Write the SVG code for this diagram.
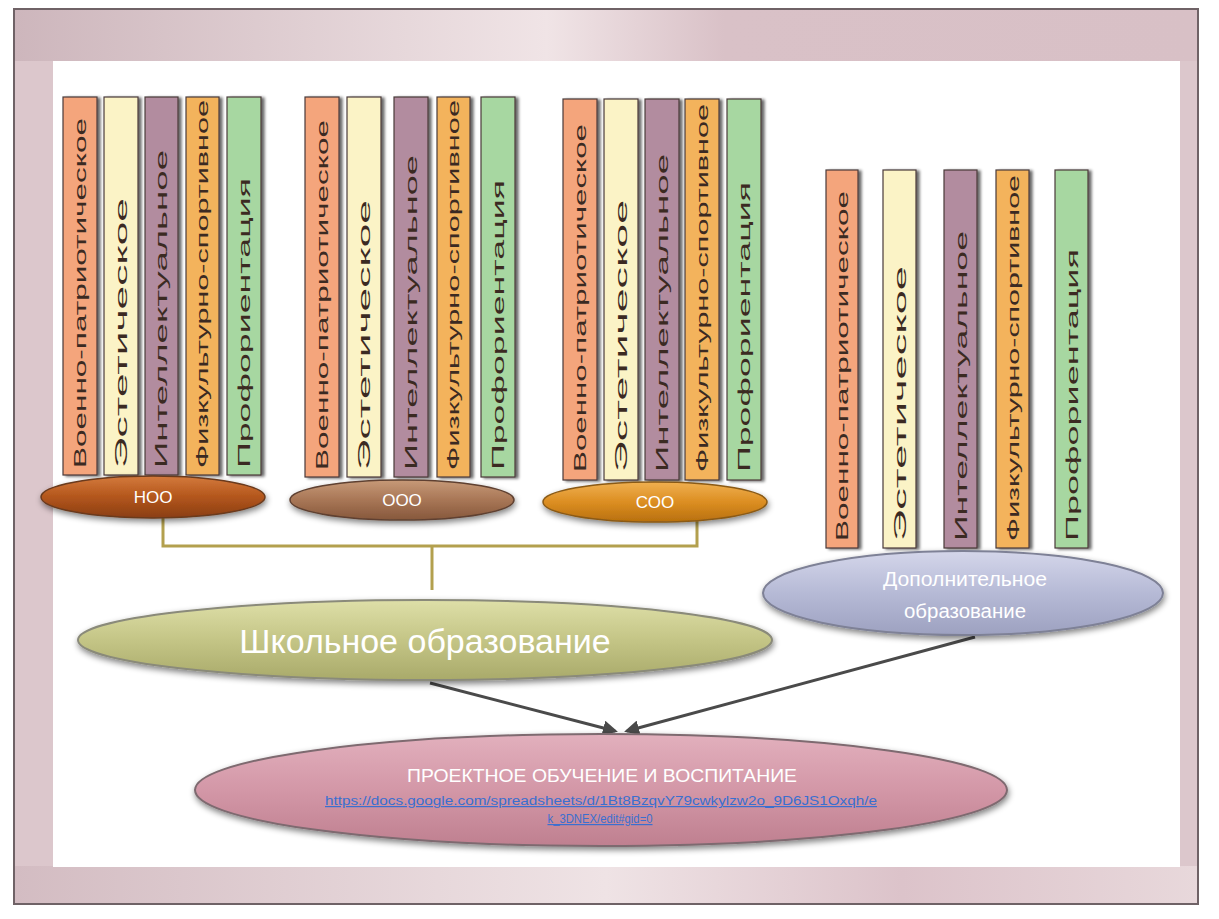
<svg xmlns="http://www.w3.org/2000/svg" width="1219" height="919" viewBox="0 0 1219 919">
<defs>
<style>
.bar{stroke:#4a3a3a;stroke-width:1.2}
.bars rect{filter:url(#bs)}
.bt{font-family:"Liberation Sans",Arial,sans-serif;font-size:17px;fill:#3b2a22}
.lbl{font-family:"Liberation Sans",Arial,sans-serif;fill:#ffffff;text-anchor:middle}
.brk{fill:none;stroke:#b3a04e;stroke-width:3}
.arr{fill:none;stroke:#4a4a4a;stroke-width:3;marker-end:url(#ah)}
.c1{fill:#f4a57c}.c2{fill:#fbf3c6}.c3{fill:#b28c9f}.c4{fill:#f3b35c}.c5{fill:#a7d7a1}
</style>
<marker id="ah" viewBox="0 0 10 10" refX="8" refY="5" markerWidth="5" markerHeight="5" orient="auto"><path d="M0,0 L10,5 L0,10 z" fill="#4a4a4a"/></marker>
<linearGradient id="gNoo" x1="0" y1="0" x2="0" y2="1"><stop offset="0" stop-color="#d47a3c"/><stop offset="0.5" stop-color="#b3561c"/><stop offset="1" stop-color="#8a3e14"/></linearGradient>
<linearGradient id="gOoo" x1="0" y1="0" x2="0" y2="1"><stop offset="0" stop-color="#c79a78"/><stop offset="0.5" stop-color="#a87656"/><stop offset="1" stop-color="#86583c"/></linearGradient>
<linearGradient id="gSoo" x1="0" y1="0" x2="0" y2="1"><stop offset="0" stop-color="#f0b050"/><stop offset="0.5" stop-color="#dc8e22"/><stop offset="1" stop-color="#b8700e"/></linearGradient>
<linearGradient id="gSch" x1="0" y1="0" x2="0" y2="1"><stop offset="0" stop-color="#dedfa8"/><stop offset="0.5" stop-color="#c4c586"/><stop offset="1" stop-color="#a9aa6a"/></linearGradient>
<linearGradient id="gDop" x1="0" y1="0" x2="0" y2="1"><stop offset="0" stop-color="#d4d6ea"/><stop offset="0.5" stop-color="#b6bad6"/><stop offset="1" stop-color="#9da1c0"/></linearGradient>
<linearGradient id="gPro" x1="0" y1="0" x2="0" y2="1"><stop offset="0" stop-color="#e2b0bd"/><stop offset="0.5" stop-color="#d397a7"/><stop offset="1" stop-color="#bf8090"/></linearGradient>
<linearGradient id="gFrameT" x1="0" y1="0" x2="1" y2="0"><stop offset="0" stop-color="#cdb6bc"/><stop offset="0.45" stop-color="#f0e4e6"/><stop offset="0.6" stop-color="#d9c1c7"/><stop offset="1" stop-color="#d8c0c6"/></linearGradient>
<linearGradient id="gFrameB" x1="0" y1="0" x2="1" y2="0"><stop offset="0" stop-color="#d3bcc2"/><stop offset="0.5" stop-color="#efe3e5"/><stop offset="0.75" stop-color="#dcc3ca"/><stop offset="1" stop-color="#e8d8db"/></linearGradient>
<filter id="sh" x="-10%" y="-30%" width="120%" height="160%"><feGaussianBlur in="SourceAlpha" stdDeviation="3"/><feOffset dx="1" dy="3"/><feComponentTransfer><feFuncA type="linear" slope="0.5"/></feComponentTransfer><feMerge><feMergeNode/><feMergeNode in="SourceGraphic"/></feMerge></filter>
<filter id="bs" x="-20%" y="-5%" width="150%" height="110%"><feGaussianBlur in="SourceAlpha" stdDeviation="1.5"/><feOffset dx="3" dy="1"/><feComponentTransfer><feFuncA type="linear" slope="0.6"/></feComponentTransfer><feMerge><feMergeNode/><feMergeNode in="SourceGraphic"/></feMerge></filter>
</defs>
<rect width="1219" height="919" fill="#ffffff"/>
<g id="frame">
<rect x="14" y="9" width="1184" height="895" fill="#dcc7cc"/>
<rect x="14" y="9" width="1184" height="52" fill="url(#gFrameT)"/>
<rect x="14" y="866" width="1184" height="38" fill="url(#gFrameB)"/>
<rect x="14" y="9" width="1184" height="895" fill="none" stroke="#6f6266" stroke-width="2"/>
<rect x="53" y="61" width="1127" height="806" fill="#ffffff"/>
</g>
<g id="connectors">
<path class="brk" d="M163,518 V546 H697 V520"/>
<path class="brk" d="M432,546 V590"/>
<path class="arr" d="M430,683 L615,731"/>
<path class="arr" d="M975,637 L627,731"/>
</g>
<g id="noo-bars" class="bars">
<rect class="bar c1" x="63" y="97" width="34" height="378"/>
<rect class="bar c2" x="104" y="97" width="34" height="378"/>
<rect class="bar c3" x="145" y="97" width="33" height="378"/>
<rect class="bar c4" x="186" y="97" width="33" height="378"/>
<rect class="bar c5" x="227" y="97" width="34" height="378"/>
<text class="bt" transform="translate(86,468) rotate(-90)" textLength="350" lengthAdjust="spacingAndGlyphs">Военно-патриотическое</text>
<text class="bt" transform="translate(127,468) rotate(-90)" textLength="270" lengthAdjust="spacingAndGlyphs">Эстетическое</text>
<text class="bt" transform="translate(167,468) rotate(-90)" textLength="318" lengthAdjust="spacingAndGlyphs">Интеллектуальное</text>
<text class="bt" transform="translate(208,468) rotate(-90)" textLength="368" lengthAdjust="spacingAndGlyphs">Физкультурно-спортивное</text>
<text class="bt" transform="translate(250,468) rotate(-90)" textLength="290" lengthAdjust="spacingAndGlyphs">Профориентация</text>
</g>
<g id="noo">
<ellipse cx="153" cy="497" rx="112" ry="21" fill="url(#gNoo)" stroke="#6a3a1e" stroke-width="1.5" filter="url(#sh)"/>
<text class="lbl" x="153" y="503" font-size="17">НОО</text>
</g>
<g id="ooo-bars" class="bars">
<rect class="bar c1" x="305" y="97" width="34" height="380"/>
<rect class="bar c2" x="347" y="97" width="34" height="380"/>
<rect class="bar c3" x="394" y="97" width="34" height="380"/>
<rect class="bar c4" x="437" y="97" width="33" height="380"/>
<rect class="bar c5" x="481" y="97" width="34" height="380"/>
<text class="bt" transform="translate(328,470) rotate(-90)" textLength="350" lengthAdjust="spacingAndGlyphs">Военно-патриотическое</text>
<text class="bt" transform="translate(370,470) rotate(-90)" textLength="270" lengthAdjust="spacingAndGlyphs">Эстетическое</text>
<text class="bt" transform="translate(417,470) rotate(-90)" textLength="315" lengthAdjust="spacingAndGlyphs">Интеллектуальное</text>
<text class="bt" transform="translate(459,470) rotate(-90)" textLength="370" lengthAdjust="spacingAndGlyphs">Физкультурно-спортивное</text>
<text class="bt" transform="translate(504,470) rotate(-90)" textLength="290" lengthAdjust="spacingAndGlyphs">Профориентация</text>
</g>
<g id="ooo">
<ellipse cx="402" cy="500" rx="112" ry="20" fill="url(#gOoo)" stroke="#5e4030" stroke-width="1.5" filter="url(#sh)"/>
<text class="lbl" x="402" y="506" font-size="17">ООО</text>
</g>
<g id="soo-bars" class="bars">
<rect class="bar c1" x="563" y="99" width="34" height="381"/>
<rect class="bar c2" x="604" y="99" width="34" height="381"/>
<rect class="bar c3" x="645" y="99" width="34" height="381"/>
<rect class="bar c4" x="685" y="99" width="34" height="381"/>
<rect class="bar c5" x="727" y="99" width="34" height="381"/>
<text class="bt" transform="translate(586,472) rotate(-90)" textLength="348" lengthAdjust="spacingAndGlyphs">Военно-патриотическое</text>
<text class="bt" transform="translate(627,472) rotate(-90)" textLength="272" lengthAdjust="spacingAndGlyphs">Эстетическое</text>
<text class="bt" transform="translate(668,472) rotate(-90)" textLength="318" lengthAdjust="spacingAndGlyphs">Интеллектуальное</text>
<text class="bt" transform="translate(708,472) rotate(-90)" textLength="368" lengthAdjust="spacingAndGlyphs">Физкультурно-спортивное</text>
<text class="bt" transform="translate(750,472) rotate(-90)" textLength="290" lengthAdjust="spacingAndGlyphs">Профориентация</text>
</g>
<g id="soo">
<ellipse cx="655" cy="502" rx="112" ry="20" fill="url(#gSoo)" stroke="#8a5a16" stroke-width="1.5" filter="url(#sh)"/>
<text class="lbl" x="655" y="508" font-size="17">СОО</text>
</g>
<g id="dop-bars" class="bars">
<rect class="bar c1" x="826" y="170" width="32" height="378"/>
<rect class="bar c2" x="883" y="170" width="33" height="378"/>
<rect class="bar c3" x="944" y="170" width="33" height="378"/>
<rect class="bar c4" x="996" y="170" width="33" height="378"/>
<rect class="bar c5" x="1055" y="170" width="33" height="378"/>
<text class="bt" transform="translate(848,541) rotate(-90)" textLength="350" lengthAdjust="spacingAndGlyphs">Военно-патриотическое</text>
<text class="bt" transform="translate(906,541) rotate(-90)" textLength="275" lengthAdjust="spacingAndGlyphs">Эстетическое</text>
<text class="bt" transform="translate(967,541) rotate(-90)" textLength="310" lengthAdjust="spacingAndGlyphs">Интеллектуальное</text>
<text class="bt" transform="translate(1019,541) rotate(-90)" textLength="366" lengthAdjust="spacingAndGlyphs">Физкультурно-спортивное</text>
<text class="bt" transform="translate(1078,541) rotate(-90)" textLength="292" lengthAdjust="spacingAndGlyphs">Профориентация</text>
</g>
<g id="dop">
<ellipse cx="963" cy="593" rx="200" ry="42" fill="url(#gDop)" stroke="#7e8196" stroke-width="2" filter="url(#sh)"/>
<text class="lbl" x="965" y="586" font-size="20" textLength="164" lengthAdjust="spacingAndGlyphs">Дополнительное</text>
<text class="lbl" x="965" y="618" font-size="20" textLength="122" lengthAdjust="spacingAndGlyphs">образование</text>
</g>
<g id="school">
<ellipse cx="425" cy="640" rx="347" ry="40" fill="url(#gSch)" stroke="#8a8a7a" stroke-width="2" filter="url(#sh)"/>
<text class="lbl" x="425" y="653" font-size="34">Школьное образование</text>
</g>
<g id="project">
<ellipse cx="601" cy="790" rx="406" ry="56" fill="url(#gPro)" stroke="#7e6a70" stroke-width="2" filter="url(#sh)"/>
<text class="lbl" x="602" y="782" font-size="19" textLength="390" lengthAdjust="spacingAndGlyphs">ПРОЕКТНОЕ ОБУЧЕНИЕ И ВОСПИТАНИЕ</text>
<text x="601" y="805" font-family="Liberation Sans, Arial, sans-serif" font-size="12" fill="#3a6fd0" text-anchor="middle" text-decoration="underline" textLength="552" lengthAdjust="spacingAndGlyphs">https://docs.google.com/spreadsheets/d/1Bt8BzqvY79cwkylzw2o_9D6JS1Oxqh/e</text>
<text x="600" y="823" font-family="Liberation Sans, Arial, sans-serif" font-size="12" fill="#3a6fd0" text-anchor="middle" text-decoration="underline" textLength="105" lengthAdjust="spacingAndGlyphs">k_3DNEX/edit#gid=0</text>
</g>
</svg>
